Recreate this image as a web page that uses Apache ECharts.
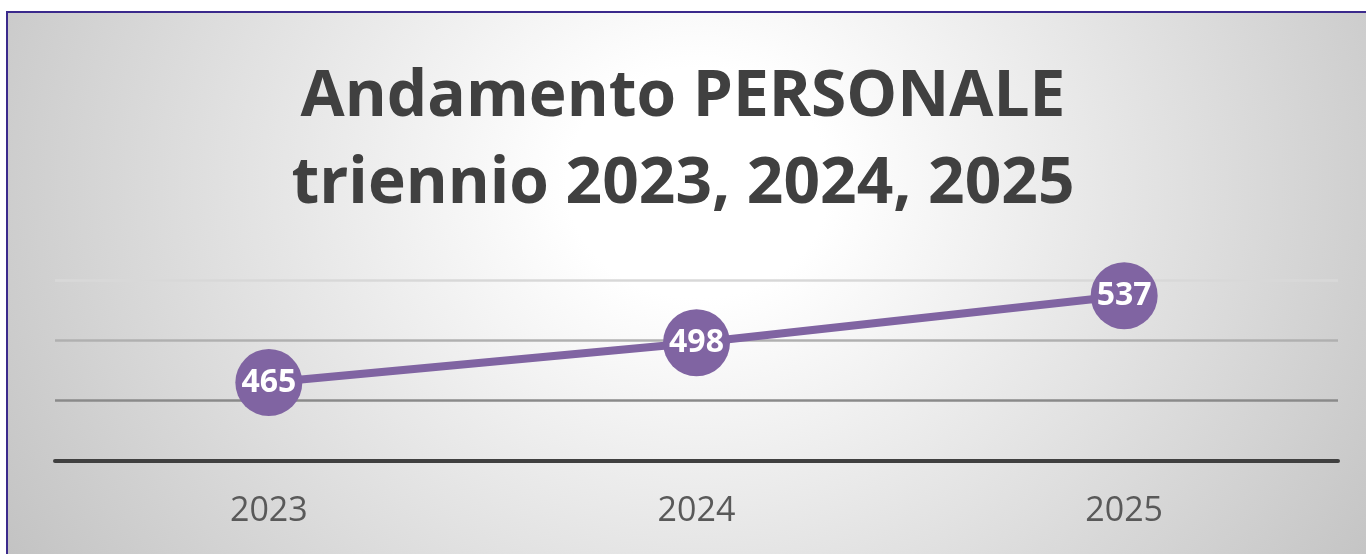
<!DOCTYPE html>
<html>
<head>
<meta charset="utf-8">
<script src="https://cdn.jsdelivr.net/npm/echarts@6/dist/echarts.min.js"></script>
<style>
  html, body { margin:0; padding:0; width:1366px; height:554px; overflow:hidden; background:#ffffff; }
  #frame { position:absolute; left:6px; top:11px; width:1420px; height:620px;
    border:2.5px solid #3b2a8c; box-sizing:border-box;
    background: radial-gradient(ellipse 820px 720px at 690px 170px, #ffffff 0%, #ffffff 16%, #c2c2c2 100%); }
  #main { position:absolute; left:0; top:0; width:1366px; height:554px; }
</style>
</head>
<body>
<div id="frame"></div>
<div id="main"></div>
<script>
const titleLines = ['Andamento PERSONALE', 'triennio 2023, 2024, 2025'];
const categories = ['2023', '2024', '2025'];
const values = [465, 498, 537];
const yMin = 400, yMax = 550, yStep = 50;

const chart = echarts.init(document.getElementById('main'), null, { renderer: 'canvas' });
chart.setOption({
  backgroundColor: 'transparent',
  animation: false,
  title: {
    text: titleLines.join('\n'),
    left: 'center',
    top: 49,
    textStyle: {
      fontFamily: 'Open Sans',
      fontWeight: 'bold',
      fontSize: 64,
      lineHeight: 87,
      color: '#404040'
    }
  },
  grid: { left: 55, right: 28, top: 280, bottom: 93 },
  xAxis: {
    type: 'category',
    data: categories,
    boundaryGap: true,
    axisLine: { show: true, lineStyle: { color: '#404040', width: 4 } },
    axisTick: { show: false },
    axisLabel: { color: '#595959', fontSize: 34, fontFamily: 'Open Sans', margin: 33 }
  },
  yAxis: {
    type: 'value',
    min: yMin, max: yMax, interval: yStep,
    axisLine: { show: false },
    axisTick: { show: false },
    axisLabel: { show: false },
    splitLine: { show: true, lineStyle: { color: ['#404040', '#8a8a8a', '#b0b0b0', '#d8d8d8'], width: 2.5 } }
  },
  series: [{
    type: 'line',
    data: values,
    symbol: 'circle',
    symbolSize: 67,
    itemStyle: { color: '#8064a2' },
    lineStyle: { color: '#8064a2', width: 8 },
    label: {
      show: true,
      position: 'inside',
      color: '#ffffff',
      fontFamily: 'Open Sans',
      fontWeight: 'bold',
      fontSize: 32
    }
  }]
});
</script>
</body>
</html>
